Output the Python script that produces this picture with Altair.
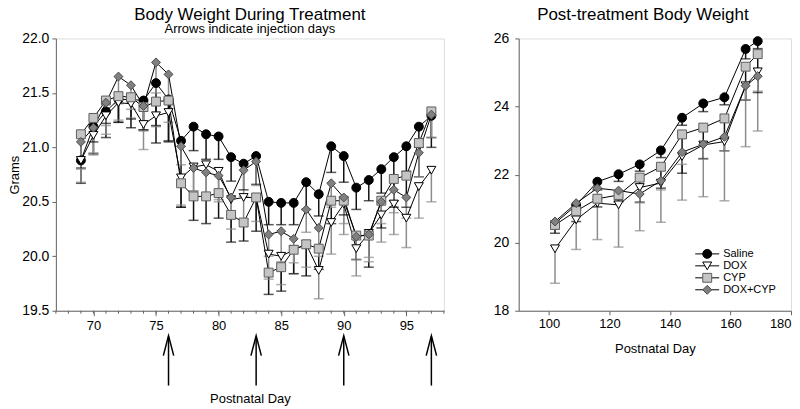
import altair as alt
import pandas as pd

FONT = "Liberation Sans"
series = ["Saline", "DOX", "CYP", "DOX+CYP"]

# ---------------- Treatment period (left panel) ----------------
tx_days = list(range(69, 98))
tx_saline = [20.88, 21.19, 21.33, 21.44, 21.44, 21.43, 21.59, 21.44, 21.06, 21.19, 21.12, 21.10, 20.91, 20.85, 20.92,
             20.50, 20.49, 20.49, 20.68, 20.57, 21.01, 20.92, 20.63, 20.70, 20.80, 20.91, 21.01, 21.19, 21.29]
tx_dox = [20.88, 21.11, 21.29, 21.41, 21.40, 21.21, 21.29, 21.32, 20.72, 20.82, 20.84, 20.78, 20.52, 20.54, 20.54,
          20.02, 20.00, 20.06, 20.11, 19.87, 20.31, 20.48, 20.07, 20.21, 20.38, 20.48, 20.35, 20.64, 20.79]
tx_cyp = [21.12, 21.27, 21.43, 21.47, 21.46, 21.37, 21.42, 21.43, 20.67, 20.55, 20.55, 20.58, 20.38, 20.31, 20.54,
          19.85, 19.90, 20.06, 20.11, 20.07, 20.51, 20.51, 20.19, 20.19, 20.51, 20.71, 20.74, 21.04, 21.33]
tx_doxcyp = [21.05, 21.18, 21.41, 21.65, 21.57, 21.38, 21.78, 21.67, 21.01, 20.81, 20.77, 20.74, 20.54, 20.79, 20.87,
             20.20, 20.23, 20.16, 20.43, 20.26, 20.67, 20.54, 20.18, 20.20, 20.50, 20.61, 20.54, 20.95, 21.30]
# lower ends of the error bars
tx_saline_lo = [20.67, 20.94, 21.09, 21.23, 21.18, 21.16, 21.04, 21.05, 20.45, 20.97, 20.89, 20.89, 20.69, 20.61, 20.66,
                20.29, 20.29, 20.29, 20.43, 20.37, 20.77, 20.68, 20.43, 20.51, 20.58, 20.51, 20.78, 21.00, 21.09]
tx_dox_lo = [20.68, 20.93, 21.12, 21.25, 21.27, 20.98, 21.19, 21.23, 20.47, 20.60, 20.56, 20.52, 20.25, 20.34, 20.32,
             19.79, 19.74, 19.84, 19.90, 19.61, 20.02, 20.20, 19.82, 19.99, 20.13, 20.20, 20.08, 20.35, 20.50]
tx_cyp_lo = [20.81, 21.05, 21.22, 21.23, 21.26, 21.16, 21.20, 21.06, 20.45, 20.33, 20.30, 20.35, 20.13, 20.14, 20.23,
             19.65, 19.68, 19.84, 19.82, 19.88, 20.30, 20.38, 19.97, 19.90, 20.26, 20.45, 20.45, 20.73, 21.00]
tx_doxcyp_lo = [20.80, 20.95, 21.20, 21.40, 21.35, 21.15, 21.50, 21.45, 20.84, 20.60, 20.56, 20.50, 20.35, 20.55, 20.65,
                20.00, 19.95, 19.94, 20.22, 20.00, 20.45, 20.30, 19.97, 19.95, 20.30, 20.40, 20.35, 20.73, 21.09]
injection_days = [76, 83, 90, 97]
left_major_ticks = [70, 75, 80, 85, 90, 95]
left_minor_ticks = list(range(67, 99))

# ---------------- Post-treatment (right panel) ----------------
post_days = [102, 109, 116, 123, 130, 137, 144, 151, 158, 165, 169]
post_saline = [20.57, 21.10, 21.79, 22.01, 22.30, 22.71, 23.67, 24.09, 24.27, 25.69, 25.92]
post_dox = [19.82, 20.67, 21.16, 21.11, 21.62, 21.75, 22.53, 22.87, 22.97, 24.61, 25.02]
post_cyp = [20.52, 20.93, 21.29, 21.40, 21.91, 22.23, 23.18, 23.38, 23.65, 25.17, 25.54]
post_doxcyp = [20.62, 21.16, 21.60, 21.53, 21.43, 21.82, 22.66, 22.89, 23.11, 24.61, 24.89]
post_saline_lo = [20.45, 20.95, 21.55, 21.80, 22.10, 22.50, 23.45, 23.85, 24.05, 25.40, 25.70]
post_dox_lo = [18.81, 19.80, 20.09, 19.87, 20.35, 20.60, 21.25, 21.35, 21.23, 22.82, 23.28]
post_cyp_lo = [20.28, 20.62, 21.05, 21.20, 21.19, 21.60, 22.04, 22.47, 22.70, 24.19, 24.41]
post_doxcyp_lo = [20.40, 20.80, 21.20, 21.25, 21.17, 21.55, 22.30, 22.45, 22.70, 24.20, 24.45]

left_title = "Body Weight During Treatment"
left_subtitle = "Arrows indicate injection days"
right_title = "Post-treatment Body Weight"


def long_df(days, vals, los):
    rows = []
    for name, v, lo in zip(series, vals, los):
        for d, a, b in zip(days, v, lo):
            rows.append({"day": d, "series": name, "grams": a, "lo": b})
    return pd.DataFrame(rows)


tx_df = long_df(tx_days, [tx_saline, tx_dox, tx_cyp, tx_doxcyp],
                [tx_saline_lo, tx_dox_lo, tx_cyp_lo, tx_doxcyp_lo])
post_df = long_df(post_days, [post_saline, post_dox, post_cyp, post_doxcyp],
                  [post_saline_lo, post_dox_lo, post_cyp_lo, post_doxcyp_lo])

err_color = alt.Scale(domain=series, range=["#111111", "#8c8c8c", "#111111", "#8c8c8c"])
shape_scale = alt.Scale(domain=series, range=["circle", "triangle-down", "square", "diamond"])
fill_scale = alt.Scale(domain=series, range=["#000000", "#ffffff", "#c4c4c4", "#808080"])
stroke_scale = alt.Scale(domain=series, range=["#000000", "#000000", "#5e5e5e", "#4a4a4a"])
size_scale = alt.Scale(domain=series, range=[80, 80, 70, 115])

W_L, W_R, H = 389, 273, 273


def data_layers(df, xscale, xaxis, yscale, yaxis):
    base = alt.Chart(df)
    x = alt.X("day:Q", scale=xscale, axis=xaxis, title=None)
    err = base.mark_rule(strokeWidth=1.5).encode(
        x=x,
        y=alt.Y("grams:Q", scale=yscale, axis=yaxis),
        y2="lo:Q",
        color=alt.Color("series:N", scale=err_color, legend=None),
    )
    cap = base.mark_tick(orient="horizontal", size=10, thickness=1.5).encode(
        x=x,
        y=alt.Y("lo:Q", scale=yscale),
        color=alt.Color("series:N", scale=err_color, legend=None),
    )
    line = base.mark_line(color="#000000", strokeWidth=1).encode(
        x=x, y=alt.Y("grams:Q", scale=yscale), detail="series:N", order="day:Q"
    )
    pts = base.mark_point(filled=True, opacity=1, strokeWidth=1).encode(
        x=x,
        y=alt.Y("grams:Q", scale=yscale),
        shape=alt.Shape("series:N", scale=shape_scale, legend=None),
        fill=alt.Fill("series:N", scale=fill_scale, legend=None),
        stroke=alt.Stroke("series:N", scale=stroke_scale, legend=None),
        size=alt.Size("series:N", scale=size_scale, legend=None),
    )
    return [err, cap, line, pts]


def title_text(text, size, dy, dx=0):
    return alt.Chart(pd.DataFrame({"t": [text]})).mark_text(
        font=FONT, fontSize=size, color="#000000", align="center", baseline="middle", dx=dx
    ).encode(x=alt.value(0), y=alt.value(dy), text="t:N")


axis_common = dict(
    domainColor="#666666", tickColor="#666666", labelColor="#000000",
    labelFont=FONT, titleFont=FONT, titleColor="#000000", titleFontWeight="normal",
    grid=False,
)

# ---- left panel
left_x_axis = alt.Axis(
    values=left_major_ticks, tickSize=5,
    labelFontSize=13, labelPadding=4, labelFlush=False,
    title="Postnatal Day", titleFontSize=13, titlePadding=60,
    **axis_common,
)
left_y_axis = alt.Axis(
    values=[19.5, 20.0, 20.5, 21.0, 21.5, 22.0], format=".1f", tickSize=4,
    labelFontSize=14, labelPadding=3, title="Grams", titleFontSize=13, titlePadding=0,
    **axis_common,
)
left_layers = data_layers(
    tx_df,
    alt.Scale(domain=[67, 98], nice=False, zero=False), left_x_axis,
    alt.Scale(domain=[19.5, 22.0], nice=False, zero=False), left_y_axis,
)

minor = alt.Chart(pd.DataFrame({"day": left_minor_ticks})).mark_rule(color="#666666", strokeWidth=1).encode(
    x=alt.X("day:Q"), y=alt.value(H), y2=alt.value(H + 3)
)

inj = pd.DataFrame({"day": injection_days})
arrow_shaft = alt.Chart(inj).mark_rule(color="#000000", strokeWidth=1.5).encode(
    x=alt.X("day:Q"), y=alt.value(H + 26), y2=alt.value(H + 75)
)
arrow_head = alt.Chart(inj).mark_point(
    shape="M-0.26,1 L0,0 L0.26,1", filled=False, color="#000000", strokeWidth=1.5, size=1600, opacity=1
).encode(x=alt.X("day:Q"), y=alt.value(H + 25))

left = alt.layer(
    *left_layers, minor, arrow_shaft, arrow_head,
    title_text(left_title, 17, -23, W_L / 2),
    title_text(left_subtitle, 13, -9, W_L / 2),
).properties(width=W_L, height=H)

# ---- right panel
right_x_axis = alt.Axis(
    values=[100, 120, 140, 160, 180], tickSize=4, labelFontSize=13, labelPadding=3,
    title="Postnatal Day", titleFontSize=13, titlePadding=12, **axis_common,
)
right_y_axis = alt.Axis(
    values=list(range(18, 27)), tickSize=4, labelFontSize=14, labelPadding=6, title=None,
    **axis_common,
)
right_layers = data_layers(
    post_df,
    alt.Scale(domain=[90, 180], nice=False, zero=False), right_x_axis,
    alt.Scale(domain=[18, 26], nice=False, zero=False), right_y_axis,
)

leg = pd.DataFrame({"series": series, "rank": list(range(len(series)))})
leg_y = alt.Y("rank:Q", scale=alt.Scale(domain=[0, 3], range=[216, 252]), axis=None)
leg_rule = alt.Chart(leg).mark_rule(color="#000000", strokeWidth=1).encode(
    x=alt.value(177), x2=alt.value(201), y=leg_y
)
leg_pts = alt.Chart(leg).mark_point(filled=True, opacity=1, strokeWidth=1).encode(
    x=alt.value(189), y=leg_y,
    shape=alt.Shape("series:N", scale=shape_scale, legend=None),
    fill=alt.Fill("series:N", scale=fill_scale, legend=None),
    stroke=alt.Stroke("series:N", scale=stroke_scale, legend=None),
    size=alt.Size("series:N", scale=size_scale, legend=None),
)
leg_txt = alt.Chart(leg).mark_text(align="left", baseline="middle", font=FONT, fontSize=11, color="#000000").encode(
    x=alt.value(205), y=leg_y, text="series:N"
)

right = alt.layer(
    alt.layer(*right_layers, title_text(right_title, 17, -23, W_R / 2 - 12)),
    alt.layer(leg_rule, leg_pts, leg_txt),
).resolve_scale(y="independent").properties(width=W_R, height=H)

chart = alt.hconcat(left, right, spacing=47).properties(
    padding={"left": 0, "right": 0, "top": -3, "bottom": 0}
).configure_view(stroke=None).configure(background="#ffffff")

chart.save("out.html", embed_options={"renderer": "svg", "actions": False})
